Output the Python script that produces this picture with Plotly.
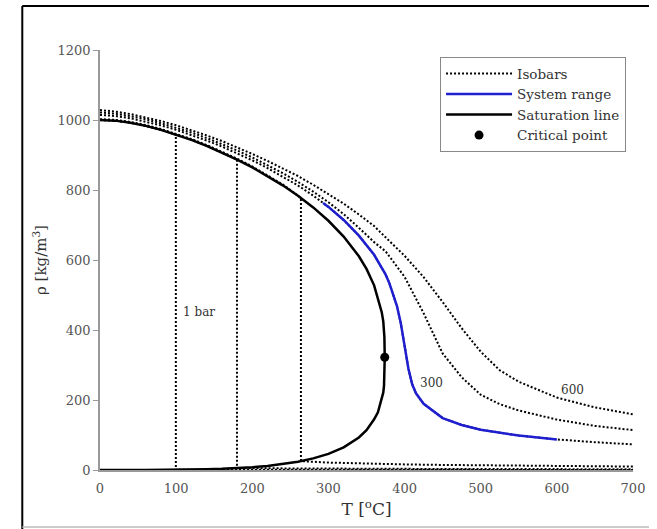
import plotly.graph_objects as go

# ---------------- data ----------------
# Saturation line (liquid and vapour branches)
sat_T = [0.01, 20, 40, 60, 80, 100, 120, 140, 160, 180, 200, 220, 240, 260, 280,
         300, 320, 340, 350, 360, 365, 370, 372, 373, 373.5, 373.95]
sat_rho_liq = [999.8, 998.2, 992.2, 983.2, 971.8, 958.4, 943.2, 926.1, 907.4, 887.0,
               864.7, 840.2, 813.4, 783.6, 750.3, 712.1, 667.1, 610.7, 574.7, 527.6,
               490.0, 451.0, 425.0, 402.0, 380.0, 322.0]
sat_rho_vap = [0.005, 0.017, 0.051, 0.13, 0.29, 0.60, 1.12, 1.97, 3.26, 5.16,
               7.86, 11.6, 16.7, 23.7, 33.2, 46.2, 64.6, 92.8, 113.6, 144.8,
               165.0, 203.0, 221.0, 240.0, 265.0, 322.0]

# Isobars
iso_1bar_T = [0, 20, 40, 60, 80, 99.6, 99.6, 150, 200, 300, 400, 500, 600, 700]
iso_1bar_rho = [999.8, 998.2, 992.2, 983.2, 971.8, 958.6, 0.59, 0.52, 0.46, 0.38, 0.32, 0.28, 0.25, 0.22]

iso_10bar_T = [0, 20, 40, 60, 80, 100, 120, 140, 160, 179.9, 179.9, 200, 250, 300, 350, 400, 500, 600, 700]
iso_10bar_rho = [1000.3, 998.6, 992.6, 983.6, 972.2, 958.8, 943.5, 926.5, 907.7, 887.1,
                 5.15, 4.85, 4.30, 3.88, 3.55, 3.26, 2.83, 2.49, 2.23]

iso_50bar_T = [0, 20, 40, 60, 80, 100, 120, 140, 160, 180, 200, 220, 240, 263.9, 263.9,
               300, 350, 400, 450, 500, 600, 700]
iso_50bar_rho = [1002.3, 1000.5, 994.4, 985.5, 974.2, 960.8, 945.6, 928.8, 910.0, 889.6,
                 867.3, 842.7, 815.9, 777.4, 25.35, 21.23, 18.15, 15.99, 14.43, 13.16, 11.24, 9.87]

iso_300bar_T = [0, 20, 40, 60, 80, 100, 120, 140, 160, 180, 200, 220, 240, 260, 280, 300,
                320, 340, 360, 375, 380, 390, 395, 400, 405, 410, 415, 425, 450, 475, 500,
                550, 600, 650, 700]
iso_300bar_rho = [1014.5, 1011.5, 1004.9, 995.8, 984.6, 971.8, 957.4, 941.5, 924.1, 905.2,
                  884.8, 862.8, 838.9, 812.8, 784.0, 751.7, 714.4, 669.5, 614.8, 558.9,
                  534.0, 468.0, 420.0, 357.6, 290.0, 245.0, 219.0, 189.3, 148.4, 128.6,
                  115.2, 98.3, 87.4, 79.4, 73.2]

iso_hi_T = [0, 20, 40, 60, 80, 100, 120, 140, 160, 180, 200, 220, 240, 260, 280, 300,
            320, 340, 360, 375, 400, 425, 450, 475, 500, 525, 550, 600, 650, 700]
iso_450bar_rho = [1021.7, 1017.9, 1011.0, 1002.0, 990.8, 978.2, 964.1, 948.6, 931.6, 913.1,
                  893.1, 871.5, 848.2, 823.0, 795.4, 765.0, 731.0, 692.0, 651.0, 625.0,
                  552.0, 448.0, 333.0, 265.0, 215.0, 188.0, 170.0, 144.0, 126.0, 114.0]
iso_600bar_rho = [1028.5, 1024.0, 1017.0, 1008.0, 997.0, 985.0, 971.0, 956.0, 940.0, 922.0,
                  903.0, 883.0, 862.0, 840.0, 815.0, 789.0, 761.0, 730.0, 697.0, 665.0,
                  612.0, 551.0, 480.0, 405.0, 338.0, 285.0, 252.0, 207.0, 179.0, 159.0]

# System range (part of the 300 bar isobar)
sys_T = [293, 300, 320, 340, 360, 375, 380, 390, 395, 400, 405, 410, 415, 425, 450, 475, 500, 550, 600]
sys_rho = [763.0, 751.7, 714.4, 669.5, 614.8, 558.9, 534.0, 468.0, 420.0, 357.6, 290.0,
           245.0, 219.0, 189.3, 148.4, 128.6, 115.2, 98.3, 87.4]

# Critical point
crit_T = [373.95]
crit_rho = [322.0]

# Curve labels
label_text = ["1 bar", "300", "600"]
label_T = [106, 435, 620]
label_rho = [451, 249, 229]

x_ticks = [0, 100, 200, 300, 400, 500, 600, 700]
y_ticks = [0, 200, 400, 600, 800, 1000, 1200]

# ---------------- figure ----------------
FONT = "DejaVu Serif"
fig = go.Figure()

isobars = [(iso_1bar_T, iso_1bar_rho), (iso_10bar_T, iso_10bar_rho),
           (iso_50bar_T, iso_50bar_rho), (iso_300bar_T, iso_300bar_rho),
           (iso_hi_T, iso_450bar_rho), (iso_hi_T, iso_600bar_rho)]
for i, (tx, ry) in enumerate(isobars):
    fig.add_trace(go.Scatter(
        x=tx, y=ry, mode="lines", name="Isobars", legendgroup="iso",
        showlegend=(i == 0), legendrank=1,
        line=dict(color="black", width=2, dash="2px,2px"),
        hoverinfo="skip"))

fig.add_trace(go.Scatter(
    x=sys_T, y=sys_rho, mode="lines", name="System range", legendrank=2,
    line=dict(color="#1f1fd0", width=2.5)))

fig.add_trace(go.Scatter(
    x=sat_T + sat_T[::-1], y=sat_rho_liq + sat_rho_vap[::-1], mode="lines",
    name="Saturation line", legendrank=3,
    line=dict(color="black", width=2.5)))

fig.add_trace(go.Scatter(
    x=crit_T, y=crit_rho, mode="markers", name="Critical point", legendrank=4,
    marker=dict(color="black", size=9)))

for t, x, y in zip(label_text, label_T, label_rho):
    fig.add_annotation(x=x, y=y, text=t, showarrow=False,
                       xanchor="left" if t == "1 bar" else "center",
                       font=dict(family=FONT, size=12, color="#333"))

# outer frame
fig.add_shape(type="line", xref="paper", yref="paper", x0=-0.1458, x1=1.03,
              y0=1.1048, y1=1.1048, line=dict(color="black", width=2))
fig.add_shape(type="line", xref="paper", yref="paper", x0=-0.1458, x1=-0.1458,
              y0=1.1048, y1=-0.15, line=dict(color="black", width=2))
fig.add_shape(type="line", xref="paper", yref="paper", x0=-0.1458, x1=1.03,
              y0=-0.1357, y1=-0.1357, line=dict(color="#bbbbbb", width=1.5))

fig.update_layout(
    width=657, height=529, autosize=False,
    margin=dict(l=100, r=15, t=50, b=59),
    paper_bgcolor="white", plot_bgcolor="white",
    font=dict(family=FONT, color="#444"),
    showlegend=True,
    legend=dict(x=0.638, y=0.983, xanchor="left", yanchor="top",
                bgcolor="white", bordercolor="#888", borderwidth=1,
                font=dict(family=FONT, size=13.5, color="#333"),
                tracegroupgap=0, itemwidth=66),
    xaxis=dict(range=[0, 700], tickvals=x_ticks, ticktext=[str(v) for v in x_ticks],
               showgrid=False, zeroline=False, showline=True, linecolor="#999",
               linewidth=1.5, ticks="", ticklabelstandoff=6,
               tickfont=dict(family=FONT, size=13, color="#555"),
               title=dict(text="T [<sup>o</sup>C]", font=dict(family=FONT, size=17, color="#333"),
                          standoff=8)),
    yaxis=dict(range=[0, 1200], tickvals=y_ticks, ticktext=[str(v) for v in y_ticks],
               showgrid=False, zeroline=False, showline=True, linecolor="#999",
               linewidth=1.5, ticks="outside", ticklen=5, tickcolor="#999",
               tickfont=dict(family=FONT, size=13, color="#555"),
               title=dict(text="ρ [kg/m<sup>3</sup>]", font=dict(family=FONT, size=15, color="#333"),
                          standoff=7)),
)

fig.write_html("out.html", config={"displayModeBar": False},
               post_script="document.body.style.margin='0';")
